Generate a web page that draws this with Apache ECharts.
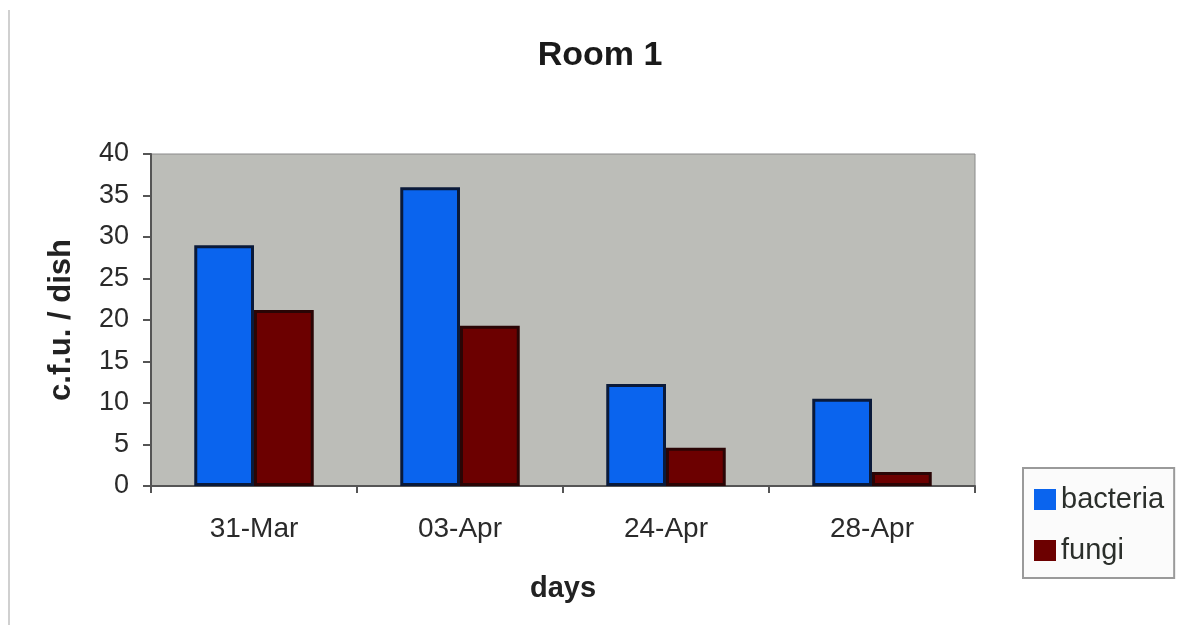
<!DOCTYPE html>
<html>
<head>
<meta charset="utf-8">
<script src="https://cdn.jsdelivr.net/npm/echarts@6/dist/echarts.min.js"></script>
<style>html,body{margin:0;padding:0;background:#fff}#c{width:1183px;height:637px}</style>
</head>
<body>
<div id="c"></div>
<script>
const categories = ['31-Mar', '03-Apr', '24-Apr', '28-Apr'];
const bacteria = [29, 36, 12.3, 10.5];
const fungi = [21.2, 19.3, 4.6, 1.7];
const yTicks = [0, 5, 10, 15, 20, 25, 30, 35, 40];

const chart = echarts.init(document.getElementById('c'));
const font = 'Liberation Sans, Arial, sans-serif';
chart.setOption({
  backgroundColor: '#ffffff',
  animation: false,
  title: {
    text: 'Room 1', left: 595, top: 34, textAlign: 'center',
    textStyle: { fontFamily: font, fontSize: 34, fontWeight: 'bold', color: '#1a1a1a' }
  },
  graphic: [{
    type: 'line', shape: { x1: 9, y1: 10, x2: 9, y2: 625 },
    style: { stroke: '#d0d0d0', lineWidth: 2 }
  }],
  legend: {
    orient: 'vertical', left: 1023, top: 468,
    data: ['bacteria', 'fungi'],
    itemWidth: 22, itemHeight: 21, itemGap: 22, itemStyle: { borderWidth: 0 },
    padding: [17, 10, 13, 11],
    borderColor: '#9a9a9a', borderWidth: 2, backgroundColor: '#fbfbfb',
    icon: 'rect',
    textStyle: { fontFamily: font, fontSize: 29, color: '#2b2f2b' }
  },
  grid: {
    left: 151, right: 208, top: 154, bottom: 151,
    show: true, backgroundColor: '#bcbdb8', borderColor: '#8a8a8a', borderWidth: 1
  },
  xAxis: {
    type: 'category', data: categories,
    name: 'days', nameLocation: 'middle', nameGap: 88,
    nameTextStyle: { fontFamily: font, fontSize: 29, fontWeight: 'bold', color: '#222' },
    axisLine: { show: true, lineStyle: { color: '#555', width: 2 } },
    axisTick: { show: true, alignWithLabel: false, length: 7, inside: false, lineStyle: { color: '#555', width: 2 } },
    axisLabel: { fontFamily: font, fontSize: 28, color: '#2a2a2a', margin: 29 }
  },
  yAxis: {
    type: 'value', min: 0, max: 40, interval: 5,
    name: 'c.f.u. / dish', nameLocation: 'middle', nameGap: 74, nameRotate: 90,
    nameTextStyle: { fontFamily: font, fontSize: 31, fontWeight: 'bold', color: '#222' },
    axisLine: { show: true, lineStyle: { color: '#555', width: 2 } },
    axisTick: { show: true, length: 8, lineStyle: { color: '#555', width: 2 } },
    splitLine: { show: false },
    axisLabel: {
      fontFamily: font, fontSize: 27, color: '#2a2a2a', margin: 22,
      formatter: v => yTicks.includes(v) ? String(v) : ''
    }
  },
  series: [
    {
      name: 'bacteria', type: 'bar', data: bacteria, barGap: '0%', barCategoryGap: '42%',
      itemStyle: { color: '#0a64ee', borderColor: '#0a1a3a', borderWidth: 3 }
    },
    {
      name: 'fungi', type: 'bar', data: fungi,
      itemStyle: { color: '#6c0000', borderColor: '#2a0505', borderWidth: 3 }
    }
  ]
});
</script>
</body>
</html>
